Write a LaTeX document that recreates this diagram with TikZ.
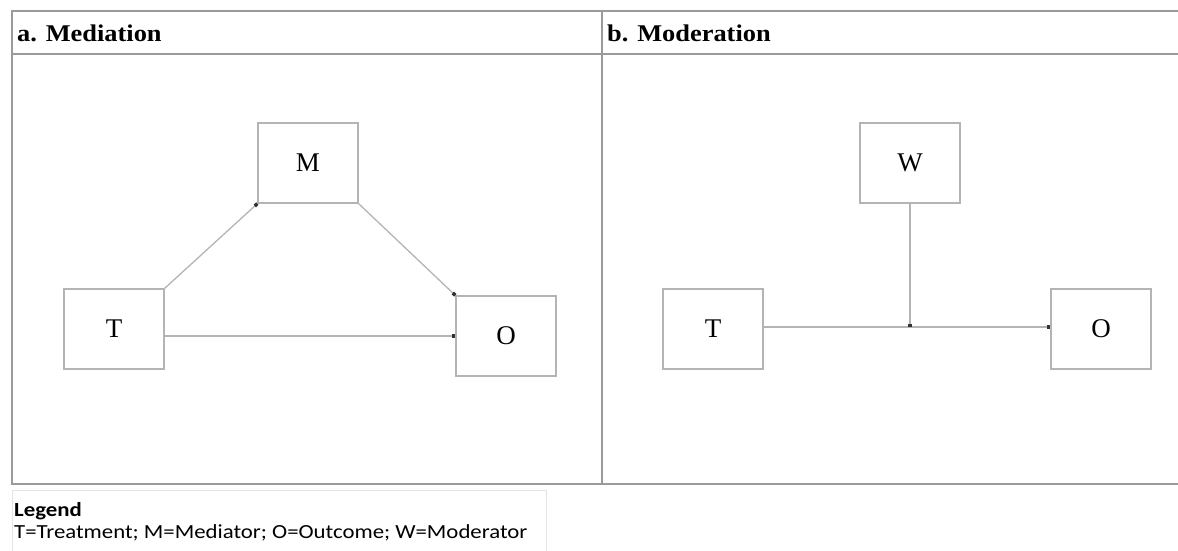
\documentclass[tikz,border=0pt]{standalone}
\usepackage{fontspec}
\setmainfont{Liberation Serif}
\newfontfamily\titlefont[FakeStretch=1.1]{Liberation Serif}
\newfontfamily\legendfont[FakeStretch=1.14]{Carlito}
\usetikzlibrary{arrows.meta}
\definecolor{framegray}{HTML}{9A9A9A}
\definecolor{linegray}{HTML}{B4B4B4}
\definecolor{legendgray}{HTML}{E4E4E4}
\definecolor{tipcol}{HTML}{333333}
\tikzset{
  varbox/.style={draw=linegray, line width=1.3pt, minimum width=100pt, minimum height=80pt, inner sep=0pt, font=\fontsize{27}{30}\selectfont},
  conn/.style={draw=linegray, line width=1.3pt, -{Square[length=3.5pt,width=3.5pt,color=tipcol,fill=tipcol]}},
  plain/.style={draw=linegray, line width=1.3pt},
  title/.style={anchor=west, inner sep=0pt, font=\titlefont\fontsize{24}{28}\bfseries\selectfont}
}
\begin{document}
\begin{tikzpicture}[x=1pt,y=-1pt]
\useasboundingbox (0,0) rectangle (1178,550);
% frame
\draw[framegray, line width=1.5pt] (1180,11) -- (12,11) -- (12,484) -- (1180,484);
\draw[framegray, line width=1.5pt] (12,54) -- (1180,54);
\draw[framegray, line width=1.5pt] (602,11) -- (602,484);
\node[title] (ta) at (17,33) {a. Mediation};
\node[title] (tb) at (607,33) {b. Moderation};
% a
\node[varbox] (M) at (308,163) {M};
\node[varbox] (Ta) at (114,329) {T};
\node[varbox] (Oa) at (506,336) {O};
\draw[conn] (Ta.north east) -- (M.south west);
\draw[conn] (M.south east) -- (Oa.north west);
\draw[conn] (Ta.east |- 0,336) -- (Oa.west |- 0,336);
% b
\node[varbox] (W) at (910,163) {W};
\node[varbox] (Tb) at (713,329) {T};
\node[varbox] (Ob) at (1101,329) {O};
\coordinate (J) at (910,327);
\draw[plain] (Tb.east |- J) -- (J);
\draw[conn] (J) -- (Ob.west |- J);
\draw[conn] (W.south) -- (J);
% legend
\draw[legendgray, line width=1pt] (12,552) -- (12,490) -- (546,490) -- (546,552);
\node[anchor=west, inner sep=0pt, font=\legendfont\fontsize{20}{24}\bfseries\selectfont] (lg) at (14,511) {Legend};
\node[anchor=west, inner sep=0pt, font=\legendfont\fontsize{20}{24}\selectfont] (lt) at (14,533) {T=Treatment; M=Mediator; O=Outcome; W=Moderator};
\end{tikzpicture}
\end{document}
